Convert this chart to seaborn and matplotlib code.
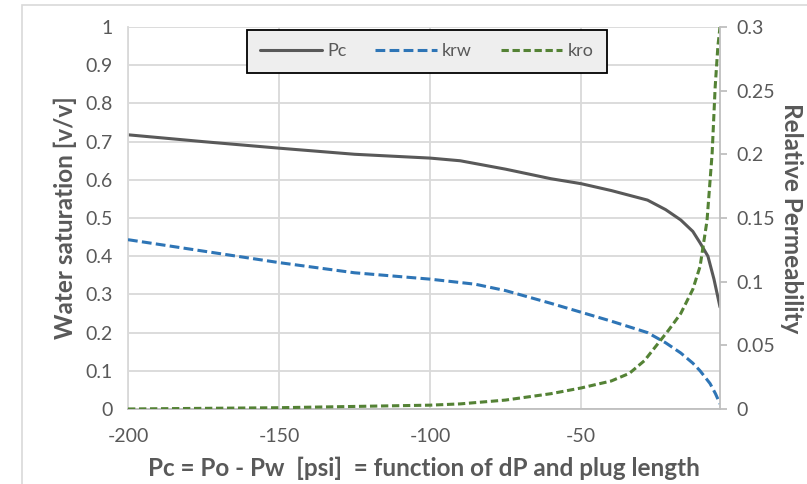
import numpy as np
import pandas as pd
import matplotlib.pyplot as plt
import seaborn as sns
from matplotlib.patches import Rectangle

# capillary pressure Pc [psi]
pc_x = [-200, -175, -150, -125, -100, -90, -75, -60, -50, -40, -28, -22, -17, -13, -10.6, -8, -6, -4]
sw = [0.718, 0.700, 0.683, 0.667, 0.657, 0.650, 0.628, 0.603, 0.590, 0.572, 0.547, 0.522, 0.495, 0.465, 0.435, 0.40, 0.34, 0.267]

krw_x = [-200, -175, -150, -125, -100, -85, -75, -60, -50, -40, -28, -22, -17, -13, -10.6, -7.3, -5.5, -4]
krw = [0.133, 0.124, 0.115, 0.107, 0.102, 0.098, 0.093, 0.083, 0.076, 0.069, 0.060, 0.052, 0.044, 0.036, 0.030, 0.020, 0.012, 0.004]

kro_x = [-200, -175, -150, -125, -100, -90, -75, -60, -50, -40, -34, -29, -25, -21, -17, -13, -10.6, -8.3, -6.6, -5.6, -4.7, -4]
kro = [0.0, 0.0005, 0.001, 0.002, 0.003, 0.004, 0.007, 0.012, 0.0165, 0.022, 0.028, 0.038, 0.050, 0.062, 0.075, 0.094, 0.112, 0.148, 0.201, 0.253, 0.285, 0.300]

df_pc = pd.DataFrame({"Pc": pc_x, "Sw": sw})
df_krw = pd.DataFrame({"Pc": krw_x, "kr": krw})
df_kro = pd.DataFrame({"Pc": kro_x, "kr": kro})

sns.set_style("white")
plt.rcParams["font.family"] = ["Lato", "DejaVu Sans"]
plt.rcParams["axes.unicode_minus"] = False
txt = "#595959"
grid = "#d9d9d9"

fig = plt.figure(figsize=(8.07, 4.84), dpi=100)
# light chart-area border
fig.patches.append(Rectangle((22 / 807, -0.1), 1.2, 1.1 - 5 / 484, transform=fig.transFigure,
                             fill=False, edgecolor=grid, lw=1.2))
ax = fig.add_axes([0.1586, 0.155, 0.7336, 0.789])
ax2 = ax.twinx()

sns.lineplot(data=df_pc, x="Pc", y="Sw", ax=ax, color="#595959", lw=2.2, label="Pc", legend=False)
sns.lineplot(data=df_krw, x="Pc", y="kr", ax=ax2, color="#2e75b6", lw=2.2, label="krw", legend=False)
sns.lineplot(data=df_kro, x="Pc", y="kr", ax=ax2, color="#548235", lw=2.2, label="kro", legend=False)
ax2.lines[0].set_dashes([3.2, 1.4])
ax2.lines[1].set_dashes([2.4, 1.2])

ax.set_xlim(-200, -4)
ax.set_ylim(0, 1)
ax2.set_ylim(0, 0.3)
ax.set_xticks([-200, -150, -100, -50])
ax.set_yticks(np.arange(0, 1.01, 0.1))
ax.set_yticklabels(["0", "0.1", "0.2", "0.3", "0.4", "0.5", "0.6", "0.7", "0.8", "0.9", "1"])
ax2.set_yticks([0, 0.05, 0.1, 0.15, 0.2, 0.25, 0.3])
ax2.set_yticklabels(["0", "0.05", "0.1", "0.15", "0.2", "0.25", "0.3"])

ax.grid(True, color=grid, lw=1.3)
ax.set_axisbelow(True)
for a in (ax, ax2):
    for s in a.spines.values():
        s.set_visible(False)
ax2.spines["right"].set_visible(True)
ax2.spines["right"].set_color("#bfbfbf")
ax2.spines["right"].set_linewidth(1.3)
ax.spines["bottom"].set_visible(True)
ax.spines["bottom"].set_color("#bfbfbf")
ax.spines["bottom"].set_linewidth(1.3)
ax.spines["left"].set_visible(True)
ax.spines["left"].set_color(grid)
ax.spines["left"].set_linewidth(1.3)

ax.tick_params(axis="y", length=0, labelsize=14, labelcolor=txt, pad=11)
ax.tick_params(axis="x", length=0, labelsize=14, labelcolor=txt, pad=14)
ax2.tick_params(axis="y", length=5, width=1.3, color="#bfbfbf", labelsize=14, labelcolor=txt, pad=7)

ax.set_xlabel("Pc = Po - Pw  [psi]  = function of dP and plug length", fontsize=17.5,
              fontweight="bold", color=txt, labelpad=8)
ax.set_ylabel("Water saturation [v/v]", fontsize=17.5, fontweight="bold", color=txt, labelpad=6)
ax2.set_ylabel("Relative Permeability", fontsize=17.5, fontweight="bold", color=txt,
               rotation=270, labelpad=20)

handles = ax.lines[:1] + ax2.lines[:2]
leg = ax2.legend(handles, ["Pc", "krw", "kro"], loc="upper center", bbox_to_anchor=(0.505, 0.993),
                 ncol=3, frameon=True, fancybox=False, fontsize=13, handlelength=3.4,
                 columnspacing=1.6, borderpad=0.75, handletextpad=0.3, borderaxespad=0)
leg.get_frame().set_facecolor("#eeeeee")
leg.get_frame().set_edgecolor("black")
leg.get_frame().set_linewidth(1.3)
leg.get_frame().set_alpha(1)
for t in leg.get_texts():
    t.set_color(txt)

fig.savefig("out.png", dpi=100)
